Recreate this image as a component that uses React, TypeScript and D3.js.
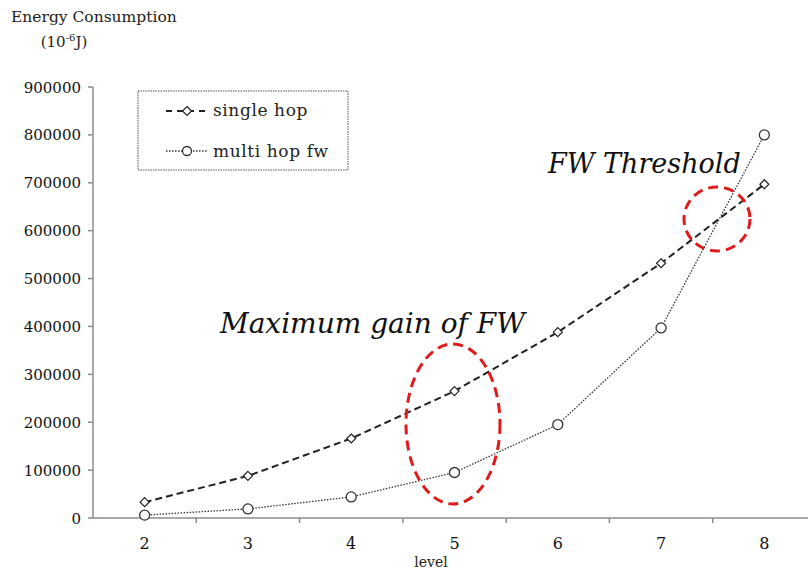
import React from "react";
import * as d3 from "d3";

const levels = ["2", "3", "4", "5", "6", "7", "8"];
const singleHop = [33000, 88000, 166000, 265000, 388000, 532000, 697000];
const multiHopFw = [6000, 19000, 44000, 95000, 195000, 397000, 800000];
const yTicks = [0, 100000, 200000, 300000, 400000, 500000, 600000, 700000, 800000, 900000];

const W = 808, H = 575;
const left = 93, right = 816, top = 87, bottom = 518;

export default function App() {
  const x = d3.scaleBand<string>().domain(levels).range([left, right]).padding(0);
  const y = d3.scaleLinear().domain([0, 900000]).range([bottom, top]);
  const cx = (d: string) => (x(d) as number) + x.bandwidth() / 2;
  const line = d3.line<number>().x((_, i) => cx(levels[i])).y((v) => y(v));
  const serif = "DejaVu Serif";
  const axisColor = "#8c8c8c";

  const diamond = (px: number, py: number, s = 4.5) =>
    `M${px},${py - s}L${px + s},${py}L${px},${py + s}L${px - s},${py}Z`;

  return (
    <svg width={W} height={H} style={{ position: "absolute", left: 0, top: 0, background: "#fff" }} fontFamily={serif}>
      <rect width={W} height={H} fill="#fff" />
      {/* title */}
      <text x={11} y={22} fontSize={15.5} fill="#222">Energy Consumption</text>
      <text x={64} y={47} fontSize={15} fill="#222" textAnchor="middle">
        (10<tspan dy={-6} fontSize={10}>-6</tspan><tspan dy={6}>J)</tspan>
      </text>

      {/* y axis */}
      <line x1={left} x2={left} y1={top} y2={bottom} stroke={axisColor} strokeWidth={1.5} />
      {yTicks.map((t) => (
        <g key={t}>
          <line x1={left - 5} x2={left} y1={y(t)} y2={y(t)} stroke={axisColor} strokeWidth={1.5} />
          <text x={81} y={y(t) + 5.5} textAnchor="end" fontSize={15} fill="#111">{t}</text>
        </g>
      ))}
      {/* x axis */}
      <line x1={left} x2={right} y1={bottom} y2={bottom} stroke={axisColor} strokeWidth={1.5} />
      {levels.map((l, i) => (
        <g key={l}>
          {i > 0 && (
            <line x1={x(l) as number} x2={x(l) as number} y1={bottom} y2={bottom + 5} stroke={axisColor} strokeWidth={1.5} />
          )}
          <text x={cx(l)} y={bottom + 31} textAnchor="middle" fontSize={16} fill="#111">{l}</text>
        </g>
      ))}
      <text x={431} y={567} textAnchor="middle" fontSize={14} fill="#222">level</text>

      {/* series */}
      <path d={line(singleHop) || ""} fill="none" stroke="#222" strokeWidth={2} strokeDasharray="7,4" />
      <path d={line(multiHopFw) || ""} fill="none" stroke="#333" strokeWidth={1.3} strokeDasharray="1.5,1.5" />
      {singleHop.map((v, i) => (
        <path key={"s" + i} d={diamond(cx(levels[i]), y(v))} fill="#fff" stroke="#222" strokeWidth={1.2} />
      ))}
      {multiHopFw.map((v, i) => (
        <circle key={"m" + i} cx={cx(levels[i])} cy={y(v)} r={5} fill="#fff" stroke="#333" strokeWidth={1.3} />
      ))}

      {/* legend */}
      <rect x={138} y={91} width={210} height={79} fill="#fff" stroke="#555" strokeWidth={1} strokeDasharray="1.5,1" />
      <line x1={166} x2={208} y1={111} y2={111} stroke="#222" strokeWidth={2} strokeDasharray="6,5" />
      <path d={diamond(187, 111)} fill="#fff" stroke="#222" strokeWidth={1.2} />
      <text x={213} y={116} fontSize={17} letterSpacing={0.6} fill="#222">single hop</text>
      <line x1={166} x2={208} y1={151} y2={151} stroke="#333" strokeWidth={1.3} strokeDasharray="1.5,1.5" />
      <circle cx={187} cy={151} r={4.5} fill="#fff" stroke="#333" strokeWidth={1.3} />
      <text x={213} y={157} fontSize={17} letterSpacing={0.6} fill="#222">multi hop fw</text>

      {/* annotations */}
      <text x={220} y={333} fontSize={28} fontStyle="italic" fill="#111">Maximum gain of FW</text>
      <text x={548} y={173} fontSize={27} fontStyle="italic" fill="#111">FW Threshold</text>
      <ellipse cx={453} cy={424} rx={47} ry={80} fill="none" stroke="#e01b1b" strokeWidth={3} strokeDasharray="10,6" />
      <ellipse cx={717} cy={219} rx={33} ry={32} fill="none" stroke="#e01b1b" strokeWidth={3} strokeDasharray="10,6" />
    </svg>
  );
}
